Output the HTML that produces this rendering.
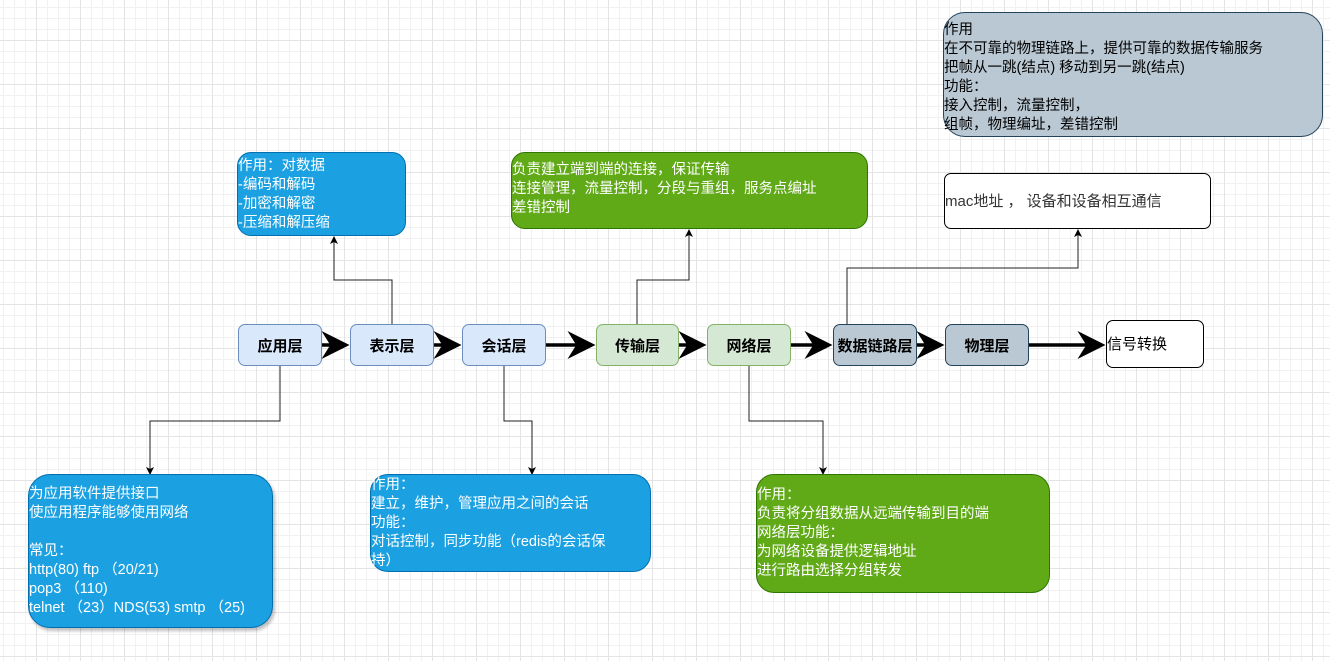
<!DOCTYPE html>
<html><head><meta charset="utf-8"><style>
html,body{margin:0;padding:0}
body{width:1330px;height:661px;position:relative;overflow:hidden;background-color:#fff;
background-image:linear-gradient(#e4e4e4 1px,transparent 1px),linear-gradient(90deg,#e4e4e4 1px,transparent 1px),linear-gradient(#f1f1f1 1px,transparent 1px),linear-gradient(90deg,#f1f1f1 1px,transparent 1px);
background-size:44px 44px,44px 44px,11px 11px,11px 11px;background-position:-8px -4px;
font-family:"Liberation Sans","Noto Sans CJK SC",sans-serif;}
.b{position:absolute;box-sizing:border-box;border:1px solid;display:flex;align-items:center;}
.n{border-radius:7px;justify-content:center;font-weight:bold;font-size:15px;color:#000}
.blue{background:#dae8fc;border-color:#6c8ebf}
.green{background:#d5e8d4;border-color:#82b366}
.gray{background:#bac8d3;border-color:#23445d}
.t{font-size:14.5px;line-height:19px;white-space:pre;align-items:center}
.nb{background:#1ba1e2;border-color:#006eaf;color:#fff;border-radius:22px}
.ng{background:#60a917;border-color:#2d7600;color:#fff;border-radius:14px}
svg{position:absolute;left:0;top:0}
</style></head><body>
<svg width="1330" height="661">
<defs>
<marker id="a" markerWidth="8" markerHeight="8" refX="7" refY="4" orient="auto" markerUnits="userSpaceOnUse"><path d="M0,0 L8,4 L0,8 L2,4 Z" fill="#000"/></marker>
<marker id="A" markerWidth="8" markerHeight="8" refX="7" refY="4" orient="auto" markerUnits="strokeWidth"><path d="M0,0 L8,4 L0,8 L2.5,4 Z" fill="#000"/></marker>
</defs>
<g stroke="#000" stroke-width="3.5" fill="none">
<line x1="322" y1="345" x2="346" y2="345" marker-end="url(#A)"/>
<line x1="434" y1="345" x2="458" y2="345" marker-end="url(#A)"/>
<line x1="546" y1="345" x2="592" y2="345" marker-end="url(#A)"/>
<line x1="679" y1="345" x2="703" y2="345" marker-end="url(#A)"/>
<line x1="791" y1="345" x2="829" y2="345" marker-end="url(#A)"/>
<line x1="917" y1="345" x2="941" y2="345" marker-end="url(#A)"/>
<line x1="1029" y1="345" x2="1102" y2="345" marker-end="url(#A)"/>
</g>
<g stroke="#222" stroke-width="1" fill="none">
<polyline points="392,324 392,280 334,280 334,237" marker-end="url(#a)"/>
<polyline points="637,324 637,280 689,280 689,230" marker-end="url(#a)"/>
<polyline points="847,324 847,268 1078,268 1078,230" marker-end="url(#a)"/>
<polyline points="280,366 280,421 150,421 150,474" marker-end="url(#a)"/>
<polyline points="504,366 504,421 532,421 532,474" marker-end="url(#a)"/>
<polyline points="749,366 749,421 823,421 823,474" marker-end="url(#a)"/>
</g>
</svg>
<div class="b n blue" style="left:238px;top:324px;width:84px;height:42px">应用层</div>
<div class="b n blue" style="left:350px;top:324px;width:84px;height:42px">表示层</div>
<div class="b n blue" style="left:462px;top:324px;width:84px;height:42px">会话层</div>
<div class="b n green" style="left:596px;top:324px;width:83px;height:42px">传输层</div>
<div class="b n green" style="left:707px;top:324px;width:84px;height:42px">网络层</div>
<div class="b n gray" style="left:833px;top:324px;width:84px;height:42px">数据链路层</div>
<div class="b n gray" style="left:945px;top:324px;width:84px;height:42px">物理层</div>
<div class="b t" style="left:1106px;top:320px;width:98px;height:48px;background:#fff;border-color:#000;border-radius:7px;font-size:15px">信号转换</div>
<div class="b t nb" style="left:237px;top:152px;width:169px;height:84px;border-radius:14px;align-items:flex-start;padding-top:4px">作用：对数据
-编码和解码
-加密和解密
-压缩和解压缩</div>
<div class="b t ng" style="left:511px;top:152px;width:357px;height:77px;align-items:flex-start;padding-top:8px">负责建立端到端的连接，保证传输
连接管理，流量控制，分段与重组，服务点编址
差错控制</div>
<div class="b t" style="left:943px;top:12px;width:380px;height:125px;background:#bac8d3;border-color:#23445d;border-radius:22px;color:#000;align-items:flex-start;padding-top:8px">作用
在不可靠的物理链路上，提供可靠的数据传输服务
把帧从一跳(结点) 移动到另一跳(结点)
功能：
接入控制，流量控制，
组帧，物理编址，差错控制</div>
<div class="b t" style="left:944px;top:173px;width:267px;height:56px;background:#fff;border-color:#000;border-radius:7px;color:#333;font-size:15px">mac地址 ， 设备和设备相互通信</div>
<div class="b t nb" style="left:28px;top:474px;width:245px;height:154px;box-shadow:2px 3px 3px rgba(0,0,0,0.25)">为应用软件提供接口
使应用程序能够使用网络

常见：
http(80) ftp （20/21)
pop3 （110)
telnet （23）NDS(53) smtp （25)</div>
<div class="b t nb" style="left:370px;top:474px;width:281px;height:98px;border-radius:18px">作用：
建立，维护，管理应用之间的会话
功能：
对话控制，同步功能（redis的会话保
持）</div>
<div class="b t ng" style="left:756px;top:474px;width:294px;height:119px;border-radius:18px">作用：
负责将分组数据从远端传输到目的端
网络层功能：
为网络设备提供逻辑地址
进行路由选择分组转发</div>
</body></html>
